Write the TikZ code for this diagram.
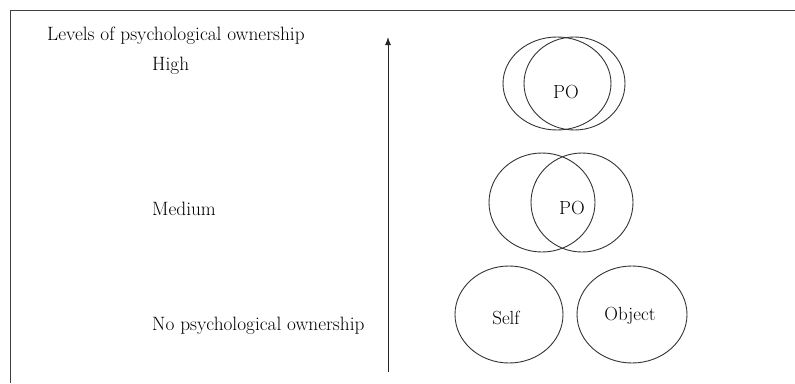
\documentclass[tikz,border=0pt]{standalone}
\usetikzlibrary{shapes.geometric,arrows.meta}
\begin{document}
\begin{tikzpicture}[x=1pt,y=-1pt,
  lbl/.style={anchor=base west,inner sep=0pt,font=\fontsize{19.3}{22}\selectfont},
  ctext/.style={inner sep=0pt,font=\fontsize{19}{22}\selectfont},
  ring/.style={draw=black!80,line width=0.9pt,ellipse,inner sep=0pt},
  frameline/.style={draw=black!75,line width=1pt}]
\useasboundingbox (0,0) rectangle (795,383);
% frame
\coordinate (ftr) at (795,10);
\coordinate (ftl) at (10,10);
\coordinate (fbl) at (10,383);
\draw[frameline] (ftr) -- (ftl) -- (fbl);
% axis arrow
\coordinate (abot) at (388,372);
\coordinate (atop) at (388,37);
\draw[line width=1pt,black!85,-{Latex[length=8pt,width=6pt]}] (abot) -- (atop);
% labels
\node[lbl] (title) at (47,40) {Levels of psychological ownership};
\node[lbl] (high) at (152,70) {High};
\node[lbl] (medium) at (152,215.5) {Medium};
\node[lbl] (none) at (152,330.5) {No psychological ownership};
% high
\node[ring,minimum width=108pt,minimum height=93pt] (h1) at (557,83.5) {};
\node[ring,minimum width=101pt,minimum height=93pt] (h2) at (574.5,83.5) {};
\node[ctext] (hpo) at (566,92) {PO};
% medium
\node[ring,minimum width=106pt,minimum height=99pt] (m1) at (542,202.5) {};
\node[ring,minimum width=102pt,minimum height=99pt] (m2) at (582,202.5) {};
\node[ctext] (mpo) at (572,208) {PO};
% none
\node[ring,minimum width=108pt,minimum height=97pt] (self) at (509,314.5) {};
\node[ring,minimum width=110pt,minimum height=97pt] (obj) at (632,314.5) {};
\node[ctext] (selft) at (506,318) {Self};
\node[ctext] (objt) at (630,316) {Object};
\end{tikzpicture}
\end{document}
